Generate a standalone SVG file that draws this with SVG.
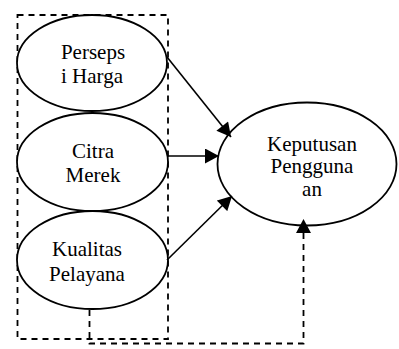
<svg xmlns="http://www.w3.org/2000/svg" width="399" height="349" viewBox="0 0 399 349">
<style>
.n{fill:#fff;stroke:#000;stroke-width:1.8}
.t{font-family:"Liberation Serif","Times New Roman",serif;font-size:21px;fill:#000;text-anchor:middle}
.c{fill:none;stroke:#000;stroke-width:1.6}
.d{fill:none;stroke:#000;stroke-width:1.8;stroke-dasharray:6 5}
</style>
<defs>
<marker id="ah" markerUnits="userSpaceOnUse" markerWidth="15" markerHeight="15" viewBox="0 0 14 15" refX="14" refY="7.5" orient="auto">
<path d="M0,0 L14,7.5 L0,15 Z" fill="#000"/>
</marker>
</defs>
<g id="box"><rect class="d" x="17.5" y="15" width="150.5" height="324" fill="none"/></g>
<g id="persepsi"><ellipse class="n" cx="92" cy="63" rx="75" ry="48"/><text class="t" x="93" y="59">Perseps</text><text class="t" x="92" y="83">i Harga</text></g>
<g id="citra"><ellipse class="n" cx="92.5" cy="162" rx="75.5" ry="49"/><text class="t" x="93" y="158">Citra</text><text class="t" x="93" y="182">Merek</text></g>
<g id="kualitas"><ellipse class="n" cx="92.5" cy="260" rx="75.5" ry="49"/><text class="t" x="87" y="256">Kualitas</text><text class="t" x="87" y="281">Pelayana</text></g>
<g id="keputusan"><ellipse class="n" cx="307" cy="164" rx="89.5" ry="61.5"/><text class="t" x="312" y="151">Keputusan</text><text class="t" x="312" y="173">Pengguna</text><text class="t" x="312" y="196">an</text></g>
<g id="connectors">
<line class="c" x1="167" y1="57" x2="231" y2="137" marker-end="url(#ah)"/>
<line class="c" x1="168" y1="156" x2="219" y2="156" marker-end="url(#ah)"/>
<line class="c" x1="167" y1="260" x2="232" y2="196" marker-end="url(#ah)"/>
<path class="d" d="M89.5,310 V343.5 H303.5 V219" marker-end="url(#ah)"/>
</g>
</svg>
